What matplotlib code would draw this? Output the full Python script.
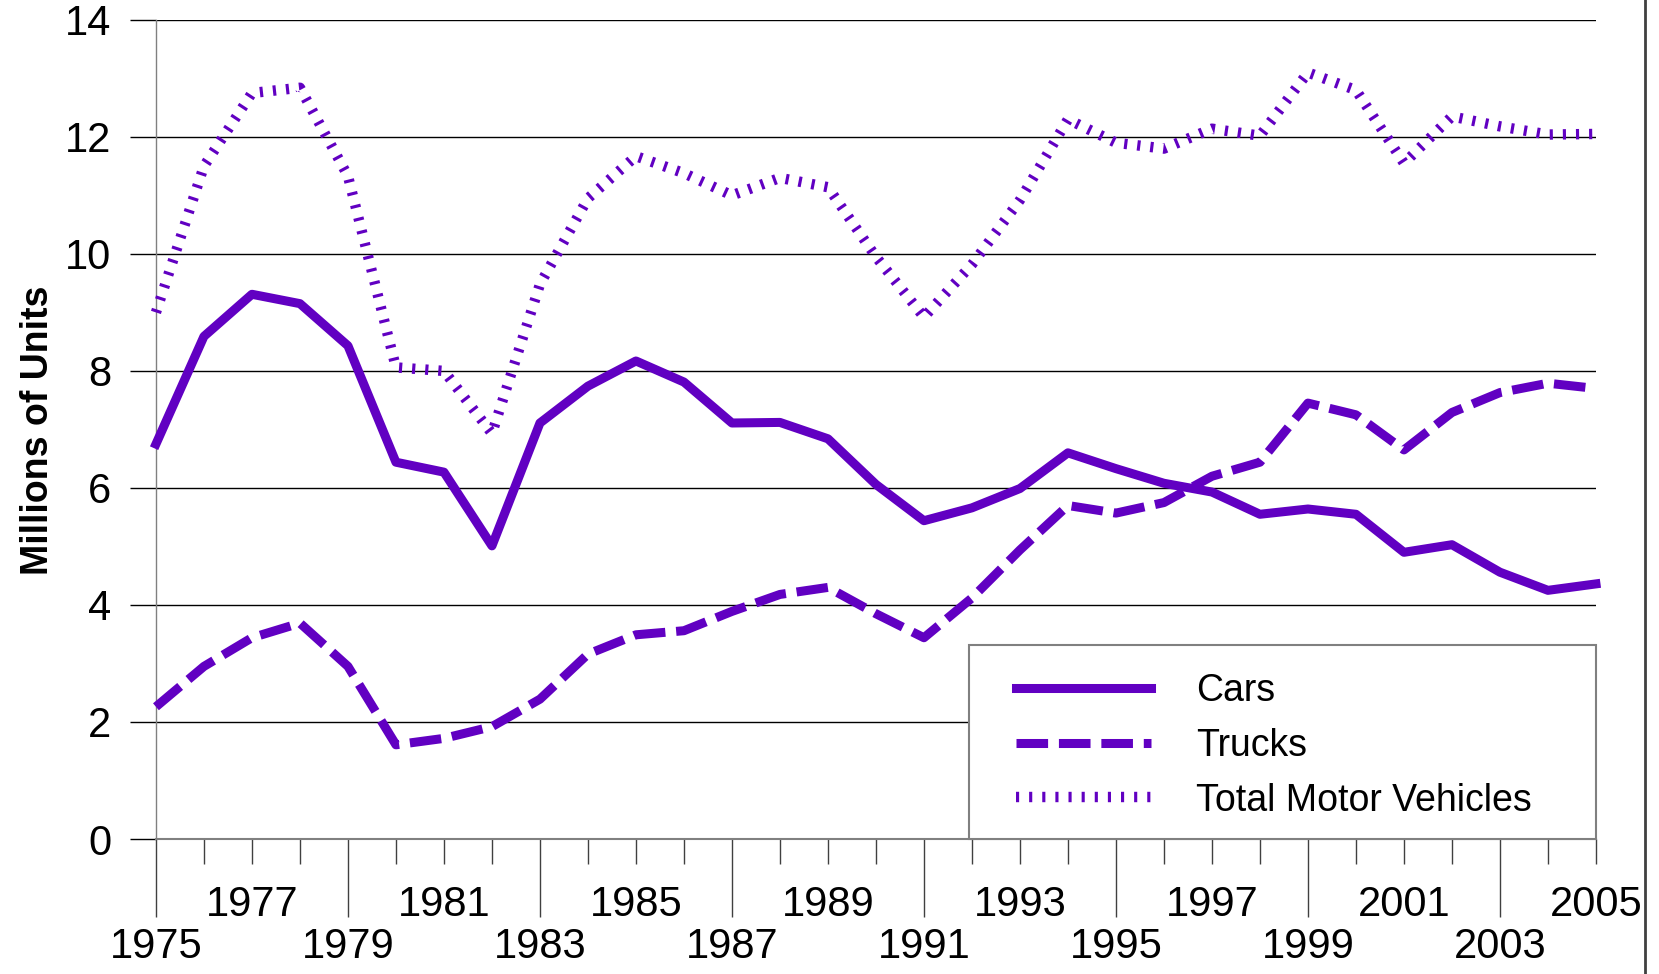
import matplotlib
matplotlib.use("Agg")
import matplotlib.pyplot as plt
from matplotlib.patches import Rectangle
from matplotlib.lines import Line2D
from matplotlib.ticker import FixedLocator, FixedFormatter

plt.rcParams["font.family"] = ["Liberation Sans", "DejaVu Sans"]

# Data (millions of units)
years = list(range(1975, 2006))
cars = [6.75, 8.59, 9.31, 9.15, 8.43, 6.44, 6.27, 5.01, 7.11, 7.74,
        8.17, 7.81, 7.11, 7.12, 6.84, 6.06, 5.44, 5.66, 5.99, 6.60,
        6.33, 6.08, 5.93, 5.55, 5.64, 5.55, 4.90, 5.03, 4.56, 4.25, 4.36]
trucks = [2.26, 2.95, 3.44, 3.69, 2.95, 1.61, 1.72, 1.92, 2.39, 3.16,
          3.49, 3.56, 3.89, 4.18, 4.30, 3.85, 3.44, 4.12, 4.94, 5.70,
          5.57, 5.75, 6.20, 6.44, 7.45, 7.25, 6.65, 7.29, 7.63, 7.79, 7.70]
total = [9.00, 11.50, 12.75, 12.84, 11.33, 8.06, 8.00, 6.93, 9.48, 10.95,
         11.67, 11.38, 11.00, 11.30, 11.14, 9.95, 8.92, 9.82, 10.92, 12.30,
         11.90, 11.80, 12.14, 12.02, 13.10, 12.80, 11.55, 12.35, 12.18, 12.04, 12.05]
labels = ["Cars", "Trucks", "Total Motor Vehicles"]

purple = "#6100C2"

fig = plt.figure(figsize=(16.59, 9.74), dpi=100)
ax = fig.add_axes([0.094, 0.1386, 0.868, 0.841])

ax.plot(years, cars, color=purple, lw=6.5, label=labels[0], clip_on=False, zorder=3)
ax.plot(years, trucks, color=purple, lw=6.5, linestyle=(0, (3.5, 1.2)),
        dash_capstyle="butt", label=labels[1], clip_on=False, zorder=3)
ax.plot(years, total, color=purple, lw=7.5, linestyle=(0, (0.3, 0.96)),
        dash_capstyle="butt", label=labels[2], clip_on=False, zorder=3)

ax.set_xlim(1975, 2005)
ax.set_ylim(0, 14)

# y axis
ax.set_yticks(range(0, 15, 2))
ax.yaxis.grid(True, color="black", lw=1)
ax.set_axisbelow(True)
ax.tick_params(axis="y", direction="out", length=19, width=1, color="black",
               pad=13, labelsize=30)

# x axis: long ticks with lower-row labels, short ticks with upper-row labels
major_years = list(range(1975, 2006, 4))
minor_years = [y for y in years if y not in major_years]
ax.xaxis.set_major_locator(FixedLocator(major_years))
ax.xaxis.set_major_formatter(FixedFormatter([str(y) for y in major_years]))
ax.xaxis.set_minor_locator(FixedLocator(minor_years))
ax.xaxis.set_minor_formatter(FixedFormatter(
    [str(y) if (y - 1977) % 4 == 0 else "" for y in minor_years]))
ax.tick_params(axis="x", which="major", direction="out", length=56, width=1,
               color="#404040", pad=7, labelsize=30)
ax.tick_params(axis="x", which="minor", direction="out", length=18, width=1,
               color="#404040", pad=15, labelsize=30)

for side in ["top", "right"]:
    ax.spines[side].set_visible(False)
ax.spines["left"].set_color("#808080")
ax.spines["bottom"].set_color("#808080")
ax.spines["left"].set_linewidth(1)
ax.spines["bottom"].set_linewidth(1.5)

fig.text(0.023, 0.558, "Millions of Units", rotation=90, fontsize=27,
         fontweight="bold", ha="center", va="center")

# legend box
ax.add_patch(Rectangle((0.5647, 0), 1 - 0.5647, 0.2364, transform=ax.transAxes,
                       facecolor="white", edgecolor="#808080", lw=1.5,
                       zorder=4, clip_on=False))
leg = ax.legend(loc="center left", bbox_to_anchor=(0.597, 0.1137), frameon=False,
                borderpad=0, borderaxespad=0, handlelength=3.6,
                handletextpad=1.2, labelspacing=0.5, fontsize=27)
leg.set_zorder(5)

# chart-area border on the right
fig.add_artist(Line2D([0.9915, 0.9915], [0, 1], transform=fig.transFigure,
                      color="#404040", lw=2))

fig.savefig("out.png", dpi=100)
